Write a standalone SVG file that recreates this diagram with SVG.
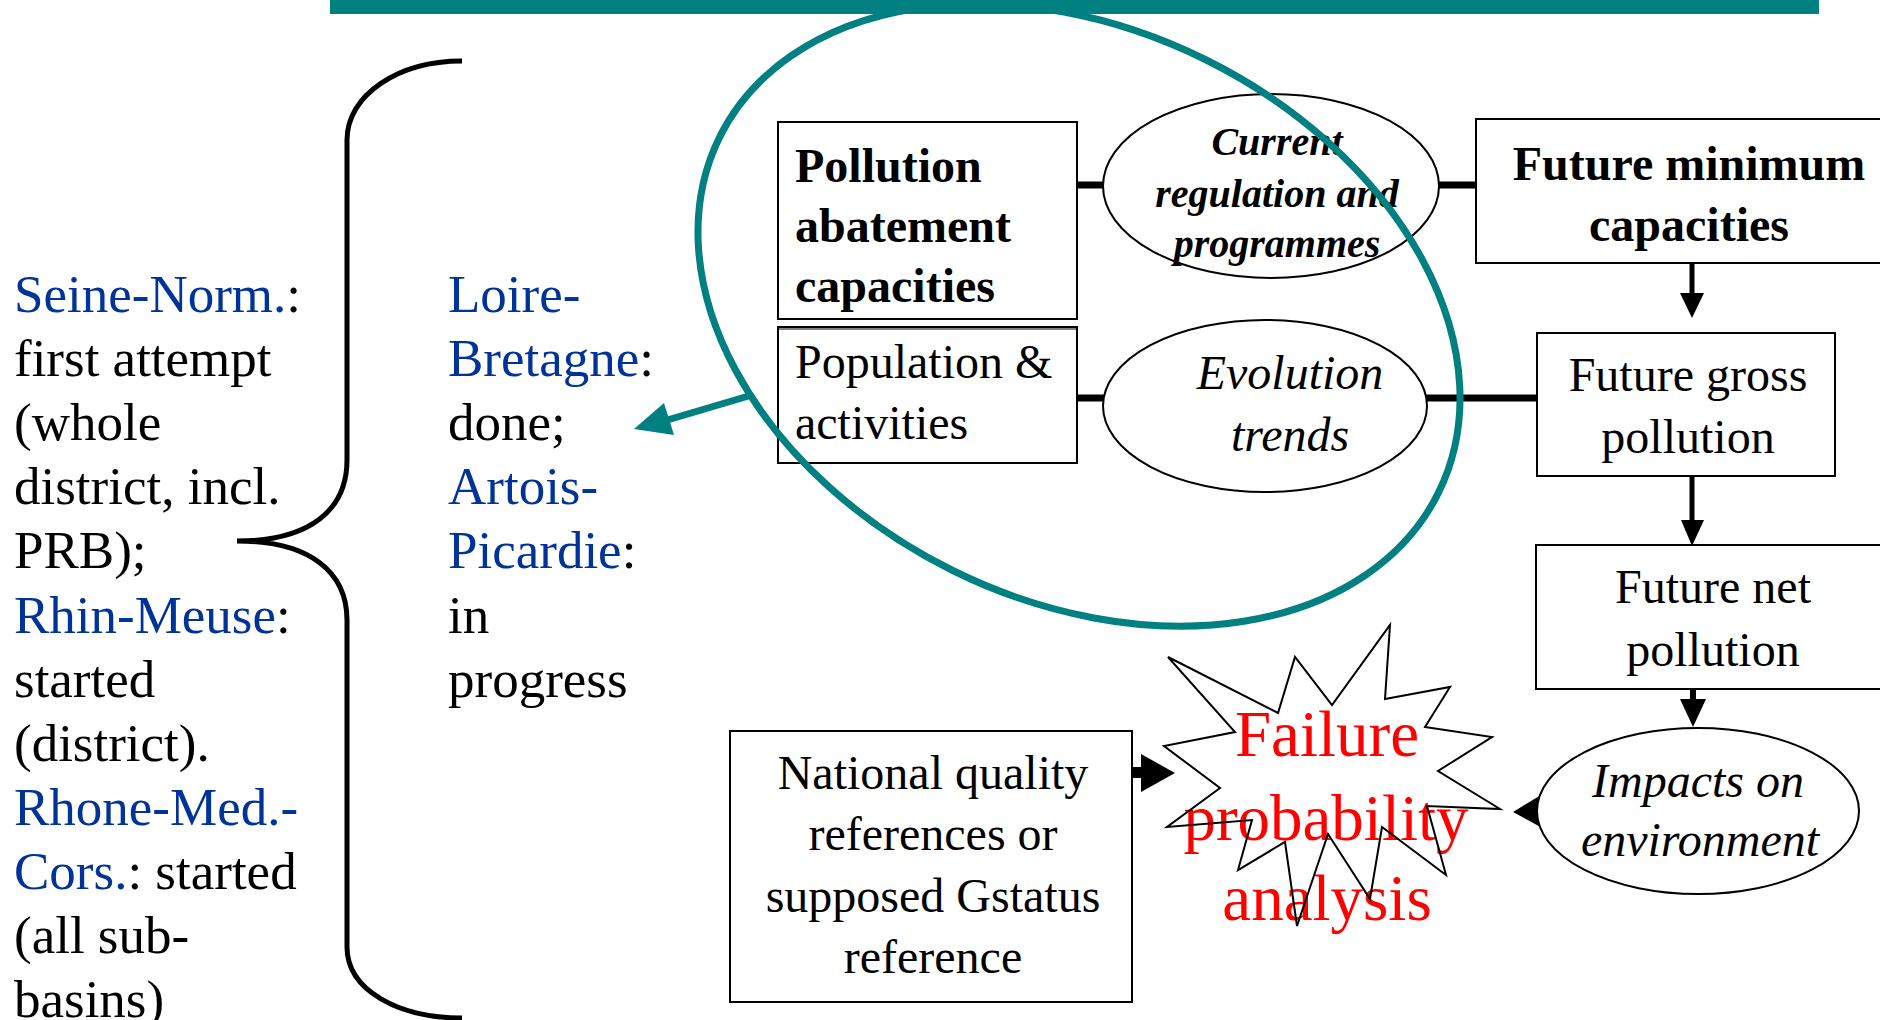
<svg xmlns="http://www.w3.org/2000/svg" width="1880" height="1020" viewBox="0 0 1880 1020">
<defs>
<style>
text{font-family:"Liberation Serif","Times New Roman",serif;fill:#000}
.t53{font-size:53px}
.b{fill:#003399}
.box{fill:#fff;stroke:#000;stroke-width:2}
.ell{fill:#fff;stroke:#000;stroke-width:2}
.n48{font-size:48px}
.bold{font-weight:bold}
.it{font-style:italic}
.mid{text-anchor:middle}
.conn{stroke:#000;stroke-width:7;fill:none}
.arr{stroke:#000;stroke-width:5;fill:none}
.red{font-size:65px;fill:#ff0000}
.teal{stroke:#008080;stroke-width:7;fill:none}
</style>
</defs>
<rect width="1880" height="1020" fill="#fff"/>

<g id="left-text" class="t53">
<text x="14" y="312"><tspan class="b">Seine-Norm.</tspan>:</text>
<text x="14" y="376">first attempt</text>
<text x="14" y="440">(whole</text>
<text x="14" y="504">district, incl.</text>
<text x="14" y="568">PRB);</text>
<text x="14" y="633"><tspan class="b">Rhin-Meuse</tspan>:</text>
<text x="14" y="697">started</text>
<text x="14" y="761">(district).</text>
<text x="14" y="825"><tspan class="b">Rhone-Med.-</tspan></text>
<text x="14" y="889"><tspan class="b">Cors.</tspan>: started</text>
<text x="14" y="953">(all sub-</text>
<text x="14" y="1017">basins)</text>
</g>

<g id="brace">
<path d="M462,61 C398,61 347,95 347,140 L347,460 C347,510 310,541 237,541 C310,541 347,572 347,620 L347,947 C347,990 398,1018 462,1018" fill="none" stroke="#000" stroke-width="5"/>
</g>

<g id="right-text" class="t53">
<text x="448" y="312"><tspan class="b">Loire-</tspan></text>
<text x="448" y="376"><tspan class="b">Bretagne</tspan>:</text>
<text x="448" y="440">done;</text>
<text x="448" y="504"><tspan class="b">Artois-</tspan></text>
<text x="448" y="568"><tspan class="b">Picardie</tspan>:</text>
<text x="448" y="633">in</text>
<text x="448" y="697">progress</text>
</g>

<g id="connectors">
<line class="conn" x1="1078" y1="185" x2="1104" y2="185"/>
<line class="conn" x1="1078" y1="398" x2="1104" y2="398"/>
<line class="conn" x1="1438" y1="185" x2="1477" y2="185"/>
<line class="conn" x1="1426" y1="398" x2="1538" y2="398"/>
<line class="arr" x1="1692" y1="263" x2="1692" y2="296"/>
<polygon points="1680,293 1704,293 1692,318"/>
<line class="arr" x1="1692" y1="476" x2="1692" y2="522"/>
<polygon points="1681,520 1704,520 1692,546"/>
<line x1="1693" y1="689" x2="1693" y2="702" stroke="#000" stroke-width="6"/>
<polygon points="1680,699 1706,699 1693,727"/>
<rect x="1133" y="767" width="10" height="11"/>
<polygon points="1141,754 1175,773 1141,792"/>
<polygon points="1513,812 1546,792 1546,830"/>
</g>

<g id="pollution-abatement">
<rect class="box" x="778" y="122" width="299" height="197"/>
<text class="n48 bold" x="795" y="182">Pollution</text>
<text class="n48 bold" x="795" y="242">abatement</text>
<text class="n48 bold" x="795" y="302">capacities</text>
</g>
<g id="population">
<rect class="box" x="778" y="327" width="299" height="136"/>
<line x1="778" y1="329" x2="1077" y2="329" stroke="#000" stroke-width="1"/>
<text class="n48" x="795" y="378">Population &amp;</text>
<text class="n48" x="795" y="439">activities</text>
</g>

<g id="current-regulation">
<ellipse class="ell" cx="1271" cy="186" rx="168" ry="92"/>
<text class="bold it mid" font-size="40" x="1277" y="155">Current</text>
<text class="bold it mid" font-size="40" x="1277" y="207">regulation and</text>
<text class="bold it mid" font-size="40" x="1277" y="257">programmes</text>
</g>

<g id="evolution-trends">
<ellipse class="ell" cx="1265" cy="406" rx="162" ry="86"/>
<text class="n48 it mid" x="1290" y="389">Evolution</text>
<text class="n48 it mid" x="1290" y="451">trends</text>
</g>

<g id="future-minimum">
<rect class="box" x="1476" y="119" width="420" height="144"/>
<text class="n48 bold mid" x="1689" y="180">Future minimum</text>
<text class="n48 bold mid" x="1689" y="241">capacities</text>
</g>

<g id="future-gross">
<rect class="box" x="1537" y="333" width="298" height="143"/>
<text class="n48 mid" x="1688" y="391">Future gross</text>
<text class="n48 mid" x="1688" y="453">pollution</text>
</g>

<g id="future-net">
<rect class="box" x="1536" y="545" width="360" height="144"/>
<text class="n48 mid" x="1713" y="603">Future net</text>
<text class="n48 mid" x="1713" y="666">pollution</text>
</g>

<g id="impacts">
<ellipse class="ell" cx="1698" cy="811" rx="161" ry="83"/>
<text class="n48 it mid" x="1698" y="797">Impacts on</text>
<text class="n48 it mid" x="1700" y="856">environment</text>
</g>

<g id="national-quality">
<rect class="box" x="730" y="731" width="402" height="271"/>
<text class="n48 mid" font-size="47" x="933" y="789">National quality</text>
<text class="n48 mid" font-size="47" x="933" y="850">references or</text>
<text class="n48 mid" font-size="47" x="933" y="912">supposed Gstatus</text>
<text class="n48 mid" font-size="47" x="933" y="973">reference</text>
</g>

<g id="failure-analysis">
<text class="red mid" x="1327" y="756">Failure</text>
<text class="red mid" x="1326" y="840">probability</text>
<text class="red mid" x="1327" y="920">analysis</text>
<polygon points="1168,657 1278,713 1295,657 1332,705 1390,625 1385,699 1450,687 1425,727 1492,737 1438,771 1500,809 1427,806 1446,875 1382,827 1370,899 1328,834 1297,926 1285,842 1238,870 1252,820 1167,827 1220,788 1164,746 1235,732" fill="none" stroke="#000" stroke-width="2"/>
</g>

<g id="highlight">
<ellipse class="teal" cx="1079" cy="315" rx="401" ry="285" transform="rotate(26.3 1079 315)"/>
<line class="teal" x1="752" y1="395" x2="664" y2="421"/>
<polygon points="634,429 664,403 674,435" fill="#008080"/>
</g>

<g id="top-bar">
<rect x="330" y="0" width="1489" height="14" fill="#008080"/>
</g>
</svg>
